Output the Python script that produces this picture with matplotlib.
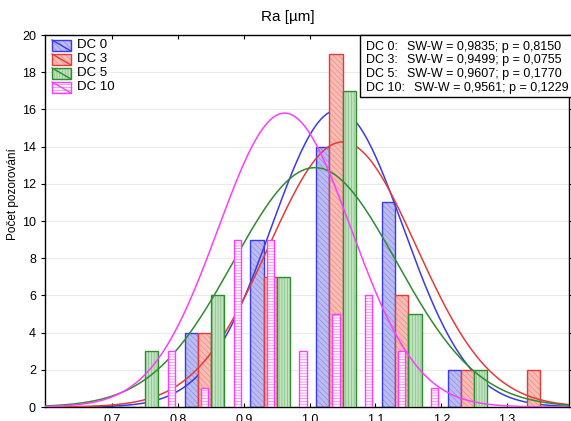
import matplotlib
matplotlib.use("Agg")
import matplotlib.pyplot as plt
import numpy as np
from matplotlib.patches import Rectangle
from matplotlib.lines import Line2D

plt.rcParams['font.family'] = ['Liberation Sans', 'DejaVu Sans']
plt.rcParams['hatch.linewidth'] = 0.5

# ---- data ----
labels = ["DC 0", "DC 3", "DC 5", "DC 10"]
bins_main = [0.7, 0.8, 0.9, 1.0, 1.1, 1.2, 1.3]
counts_dc0 = [0, 4, 9, 14, 11, 2, 0]
counts_dc3 = [0, 4, 7, 19, 6, 2, 2]
counts_dc5 = [3, 6, 7, 17, 5, 2, 0]
bins_dc10 = [0.79, 0.84, 0.89, 0.94, 0.99, 1.04, 1.09, 1.14, 1.19]
counts_dc10 = [3, 1, 9, 9, 3, 5, 6, 3, 1]
means = [1.042, 1.050, 1.008, 0.962]
sds = [0.100, 0.112, 0.124, 0.101]
n_obs = [40, 40, 40, 40]
stats_w = ["0,9835", "0,9499", "0,9607", "0,9561"]
stats_p = ["0,8150", "0,0755", "0,1770", "0,1229"]
xticks = [0.7, 0.8, 0.9, 1.0, 1.1, 1.2, 1.3]
yticks = [0, 2, 4, 6, 8, 10, 12, 14, 16, 18, 20]

edge_cols = ["#3a3ae6", "#e63a3a", "#2e8b2e", "#ff3cff"]
fill_cols = ["#bcbcf3", "#f6bcb5", "#c2e2c2", "#ffffff"]
hatch_cols = ["#8f8fe6", "#ee8f88", "#7fbf7f", "#ff6cff"]
hatches = ["\\\\\\\\\\\\", "\\\\\\\\\\\\", "||||||", "------"]

W, H = 571, 421
fig = plt.figure(figsize=(W / 100, H / 100), dpi=100)
ax = fig.add_axes([45 / W, (H - 407) / H, (569 - 45) / W, (407 - 35) / H])
ax.set_xlim(0.598, 1.394)
ax.set_ylim(0, 20)

main_counts = [counts_dc0, counts_dc3, counts_dc5]
offsets = [0.02, 0.04, 0.06]
xs = np.linspace(0.598, 1.394, 400)
z = 1
for i in range(4):
    if i < 3:
        pos = [b + offsets[i] for b in bins_main]
        cnt = main_counts[i]
        w = 0.02
    else:
        pos = bins_dc10
        cnt = counts_dc10
        w = 0.011
    ax.bar(pos, cnt, width=w, color=fill_cols[i], edgecolor=hatch_cols[i],
           hatch=hatches[i], linewidth=0, zorder=z)
    ax.bar(pos, cnt, width=w, color='none', edgecolor=edge_cols[i], linewidth=1.0, zorder=z + 0.5)
    z += 1
    y = n_obs[i] * 0.1 / (sds[i] * np.sqrt(2 * np.pi)) * np.exp(-0.5 * ((xs - means[i]) / sds[i]) ** 2)
    ax.plot(xs, y, color=edge_cols[i], linewidth=1.1, zorder=z)
    z += 1

ax.set_xticks(xticks)
ax.set_xticklabels([f"{t:.1f}" for t in xticks])
ax.set_yticks(yticks)
ax.grid(axis='y', color='#ebebeb', linewidth=0.8, zorder=0)
ax.set_axisbelow(True)
ax.tick_params(axis='y', direction='out', length=3, labelsize=9, right=True)
ax.tick_params(axis='x', direction='in', length=3, labelsize=9, top=True, pad=5)
for s in ax.spines.values():
    s.set_linewidth(1.0)
    s.set_color('black')

fig.text(13 / W, 1 - 194 / H, "Počet pozorování", rotation=90, ha='center', va='center', fontsize=8.5)
fig.text(288 / W, 1 - 17 / H, "Ra [µm]", ha='center', va='center', fontsize=11)

# legend (manual, Statistica style)
rows_y = [45, 59, 73, 87]
for i in range(4):
    yc = rows_y[i]
    r = Rectangle((52 / W, 1 - (yc + 6) / H), 19 / W, 11 / H, transform=fig.transFigure,
                  facecolor=fill_cols[i], edgecolor=hatch_cols[i], hatch=hatches[i], linewidth=0,
                  zorder=20)
    fig.add_artist(r)
    r2 = Rectangle((52 / W, 1 - (yc + 6) / H), 19 / W, 11 / H, transform=fig.transFigure,
                   facecolor='none', edgecolor=edge_cols[i], linewidth=1.0, zorder=20.5)
    fig.add_artist(r2)
    fig.add_artist(Line2D([52 / W, 71 / W], [1 - (yc - 5) / H, 1 - (yc + 6) / H],
                          transform=fig.transFigure, color=edge_cols[i], linewidth=1.0, zorder=21))
    fig.text(77 / W, 1 - yc / H, labels[i], ha='left', va='center', fontsize=9.5, zorder=22)

# stats box
box = Rectangle((360 / W, 1 - 97 / H), 215 / W, 62 / H, transform=fig.transFigure,
                facecolor='white', edgecolor='black', linewidth=1.0, zorder=30)
fig.add_artist(box)
for i in range(4):
    yc = [47, 60, 74, 88][i]
    fig.text(366 / W, 1 - yc / H, labels[i] + ":", ha='left', va='center', fontsize=9, zorder=31)
    sx = 407 if i < 3 else 414
    fig.text(sx / W, 1 - yc / H, f"SW-W = {stats_w[i]}; p = {stats_p[i]}", ha='left',
             va='center', fontsize=9, zorder=31)

fig.savefig("out.png", dpi=100)
